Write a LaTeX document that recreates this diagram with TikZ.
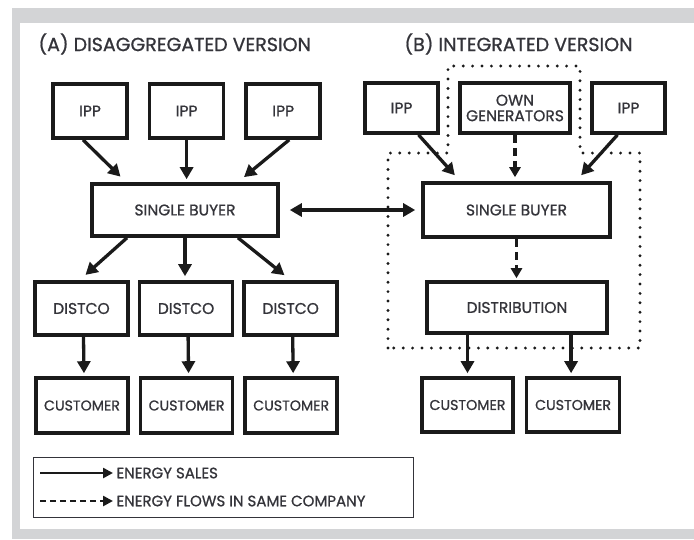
\documentclass[tikz,border=0pt]{standalone}
\usepackage{fontspec}
\setmainfont{Poppins}[FakeBold=0.9]
\usetikzlibrary{chains,positioning,arrows.meta}
\definecolor{framegray}{RGB}{211,212,214}
\definecolor{boxblack}{RGB}{26,26,26}
\definecolor{labelgray}{RGB}{52,52,58}

\begin{document}
\begin{tikzpicture}[x=1pt,y=-1pt]
\tikzstyle{every path}=[line join=miter]

\edef\ippwidth{74pt}
\edef\rowheight{54pt}
\tikzstyle{unit}=[draw=boxblack,line width=3.6pt,fill=white,text=labelgray,
  inner sep=0pt,align=center,font=\fontsize{15.5}{15.5}\selectfont]
\tikzstyle{customer}=[unit,font=\fontsize{14.2}{14.2}\selectfont]
\tikzstyle{title}=[text=labelgray,anchor=west,font=\fontsize{19}{19}\selectfont]
\tikzstyle{sale}=[draw=boxblack,line width=3.3pt,-{Triangle[length=12pt,width=13pt]}]
\tikzstyle{ownflow}=[draw=boxblack,line width=3.8pt,dash pattern=on 8pt off 5pt,
  -{Triangle[length=10pt,width=11pt]}]
\tikzstyle{firm}=[draw=boxblack,line width=3.2pt,line cap=round,dash pattern=on 0pt off 9.4pt]

%% frame
\useasboundingbox (0,0) rectangle (694,539);
\fill[framegray] (12,8) rectangle (694,539);
\fill[white] (20,23) rectangle (694,529);

\node[title] (titleA) at (35,44) {(A) DISAGGREGATED VERSION};
\node[title] (titleB) at (401,44) {(B) INTEGRATED VERSION};

%% company boundary in (B)
\draw[firm] (388,348) -- (388,153) -- (448,153) -- (448,66) -- (580,66)
  -- (580,153) -- (640,153) -- (640,348) -- cycle;

%% (A) disaggregated
\begin{scope}[start chain=1 going right,node distance=19pt]
    \node [on chain=1,unit,minimum width=\ippwidth,minimum height=\rowheight] (ippA1) at (90,111) {IPP};
    \node [on chain=1,unit,minimum width=\ippwidth,minimum height=\rowheight] (ippA2) {IPP};
    \node [on chain=1,unit,minimum width=\ippwidth,minimum height=\rowheight] (ippA3) {IPP};
\end{scope}
\node [unit,minimum width=186pt,minimum height=52pt] (buyerA) at (185,210) {SINGLE BUYER};
\begin{scope}[start chain=2 going right,node distance=8pt]
    \node [on chain=2,unit,minimum width=93pt,minimum height=53pt] (distA1) at (81.5,308.5) {DISTCO};
    \node [on chain=2,unit,minimum width=93pt,minimum height=53pt] (distA2) {DISTCO};
    \node [on chain=2,unit,minimum width=93pt,minimum height=53pt] (distA3) {DISTCO};
\end{scope}
\begin{scope}[start chain=3 going right,node distance=9pt]
    \node [on chain=3,customer,minimum width=92pt,minimum height=55pt] (custA1) at (82,405.5) {CUSTOMER};
    \node [on chain=3,customer,minimum width=92pt,minimum height=55pt] (custA2) {CUSTOMER};
    \node [on chain=3,customer,minimum width=92pt,minimum height=55pt] (custA3) {CUSTOMER};
\end{scope}

%% (B) integrated
\node [unit,minimum width=73pt,minimum height=50pt] (ippB1) at (401.5,108) {IPP};
\node [unit,minimum width=110pt,minimum height=50pt] (owngen) at (515,108) {OWN\\GENERATORS};
\node [unit,minimum width=73pt,minimum height=50pt] (ippB2) at (628.5,108) {IPP};
\node [unit,minimum width=187pt,minimum height=54pt] (buyerB) at (516.5,210) {SINGLE BUYER};
\node [unit,minimum width=180pt,minimum height=51pt] (distrib) at (517,307.5) {DISTRIBUTION};
\node [customer,minimum width=91pt,minimum height=54pt] (custB1) at (467.5,405) {CUSTOMER};
\node [customer,minimum width=93pt,minimum height=54pt,right=10pt of custB1] (custB2) {CUSTOMER};

%% sales in (A)
\draw[sale,shorten >=8pt] ([xshift=-7pt]ippA1.south) -- ([xshift=36pt]buyerA.north west);
\draw[sale,shorten >=3pt] (ippA2.south) -- (ippA2.south |- buyerA.north);
\draw[sale,shorten >=8pt] ([xshift=6pt]ippA3.south) -- ([xshift=-42pt]buyerA.north east);
\draw[sale,shorten >=8pt] ([xshift=-58pt]buyerA.south) -- ([xshift=-2pt]distA1.north);
\draw[sale,shorten >=4pt] (buyerA.south) -- (buyerA.south |- distA2.north);
\draw[sale,shorten >=8pt] ([xshift=53pt]buyerA.south) -- (distA3.north);
\foreach \i in {1,2,3}
    \draw[sale,shorten >=3pt] ([xshift=2pt]distA\i.south) -- ([xshift=2pt]custA\i.north);

%% trade between the two
\draw[sale,{Triangle[length=12pt,width=13pt]}-{Triangle[length=12pt,width=13pt]},
  shorten <=10pt,shorten >=6pt] (buyerA.east) -- (buyerB.west);

%% (B) flows
\draw[sale,shorten >=8pt] ([xshift=17pt]ippB1.south) -- ([xshift=39pt]buyerB.north west);
\draw[ownflow,shorten >=4pt] (owngen.south) -- (owngen.south |- buyerB.north);
\draw[sale,shorten >=8pt] ([xshift=-11pt]ippB2.south) -- ([xshift=-36pt]buyerB.north east);
\draw[ownflow,shorten >=2pt] (buyerB.south) -- (buyerB.south |- distrib.north);
\draw[sale,shorten >=3pt] (distrib.south -| custB1) -- (custB1.north);
\draw[sale,shorten >=3pt] ([xshift=-2pt]distrib.south -| custB2) -- ([xshift=-2pt]custB2.north);

%% legend
\node [draw=labelgray,line width=0.9pt,minimum width=380pt,minimum height=60pt] (legend) at (223,487) {};
\node [text=labelgray,anchor=west,font=\fontsize{15}{15}\selectfont] (salesTxt) at (113,473) {ENERGY SALES};
\node [text=labelgray,anchor=west,font=\fontsize{15}{15}\selectfont] (flowTxt) at (113,501) {ENERGY FLOWS IN SAME COMPANY};
\coordinate (salesTail) at (40,473);
\coordinate (flowTail) at (40,501);
\draw[draw=boxblack,line width=2.6pt,-{Triangle[length=10pt,width=10pt]}] (salesTail) -- (salesTxt.west);
\draw[draw=boxblack,line width=2.6pt,dash pattern=on 6pt off 4pt,-{Triangle[length=10pt,width=10pt]}] (flowTail) -- (flowTxt.west);
\end{tikzpicture}
\end{document}
